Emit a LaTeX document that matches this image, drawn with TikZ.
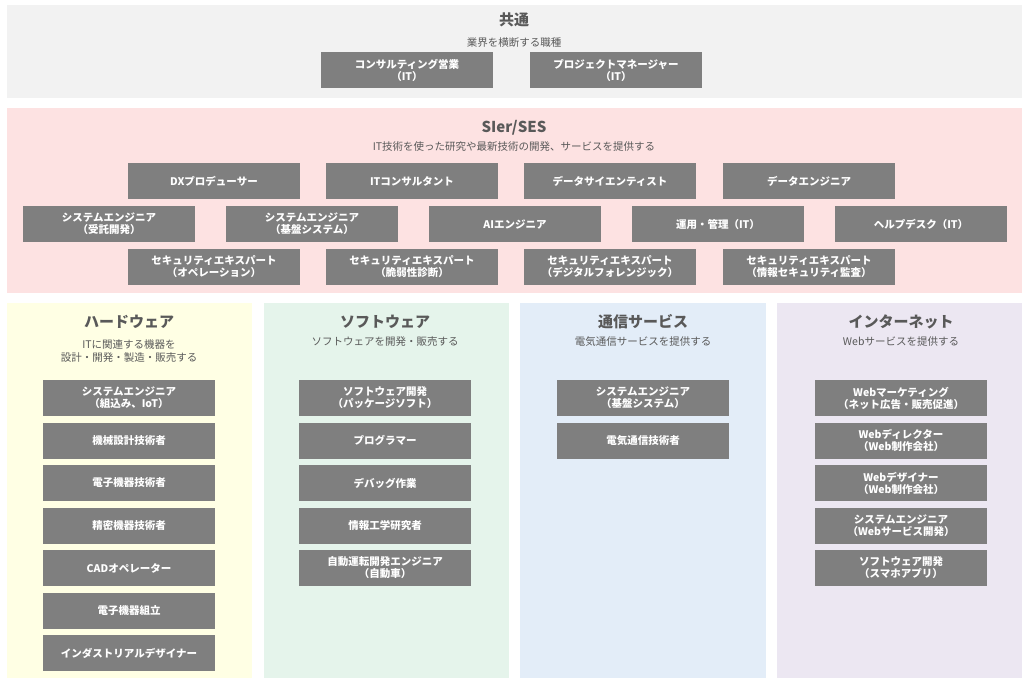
\documentclass[tikz,border=0pt]{standalone}
\usepackage{fontspec}
\setmainfont{Noto Sans CJK JP}
\usetikzlibrary{positioning}
\definecolor{jobgray}{HTML}{7F7F7F}
\definecolor{bandgray}{HTML}{F2F2F2}
\definecolor{bandpink}{HTML}{FDE2E2}
\definecolor{bandyellow}{HTML}{FFFFE4}
\definecolor{bandgreen}{HTML}{E5F4EB}
\definecolor{bandblue}{HTML}{E3EDF8}
\definecolor{bandpurple}{HTML}{ECE7F2}
\definecolor{subtext}{HTML}{595959}
\begin{document}
\begin{tikzpicture}
		[x=1pt,y=-1pt,
		% STYLES
		% job box
		job/.style={rectangle, fill=jobgray, text=white, inner sep=0pt, minimum width=172pt, minimum height=36pt, align=center, font=\fontsize{10.5}{12}\selectfont\bfseries},
		% band title
		bandtitle/.style={font=\fontsize{15}{17}\selectfont\bfseries, text=subtext},
		% band subtitle
		bandsub/.style={font=\fontsize{10.5}{13}\selectfont, text=subtext, align=center}]
		\useasboundingbox (0,0) rectangle (1028,683);

		% Bands
		\fill[bandgray] (7,5) rectangle (1022,98);
		\fill[bandpink] (7,108) rectangle (1022,293);
		\fill[bandyellow] (7,303) rectangle (252,678);
		\fill[bandgreen] (264,303) rectangle (509,678);
		\fill[bandblue] (520,303) rectangle (766,678);
		\fill[bandpurple] (777,303) rectangle (1022,678);

		% Common
		\node [bandtitle] (t-common) at (514,20) {共通};
		\node [bandsub] (s-common) at (514,43) {業界を横断する職種};
		\node [job] (c1) at (407,70) {コンサルティング営業\\（IT）};
		\node [job] (c2) at (616,70) {プロジェクトマネージャー\\（IT）};

		% SIer/SES
		\node [bandtitle] (t-sier) at (514,128) {SIer/SES};
		\node [bandsub] (s-sier) at (514,147) {IT技術を使った研究や最新技術の開発、サービスを提供する};
		\foreach \x/\txt [count=\i] in {214/DXプロデューサー, 412/ITコンサルタント, 610/データサイエンティスト, 809/データエンジニア}
			\node [job] (sa\i) at (\x,181) {\txt};
		\foreach \x/\txt [count=\i] in {109/{システムエンジニア\\（受託開発）}, 312/{システムエンジニア\\（基盤システム）}, 515/AIエンジニア, 718/運用・管理（IT）, 921/ヘルプデスク（IT）}
			\node [job] (sb\i) at (\x,224) {\txt};
		\foreach \x/\txt [count=\i] in {214/{セキュリティエキスパート\\（オペレーション）}, 412/{セキュリティエキスパート\\（脆弱性診断）}, 610/{セキュリティエキスパート\\（デジタルフォレンジック）}, 809/{セキュリティエキスパート\\（情報セキュリティ監査）}}
			\node [job] (sc\i) at (\x,267) {\txt};

		% Hardware
		\node [bandtitle] (t-hw) at (129,322) {ハードウェア};
		\node [bandsub] (s-hw) at (129,351) {ITに関連する機器を\\設計・開発・製造・販売する};
		\foreach \txt [count=\i] in {{システムエンジニア\\（組込み、IoT）}, 機械設計技術者, 電子機器技術者, 精密機器技術者, CADオペレーター, 電子機器組立, インダストリアルデザイナー}
			\node [job] (hw\i) at (129,{398+42.5*(\i-1)}) {\txt};

		% Software
		\node [bandtitle] (t-sw) at (385,322) {ソフトウェア};
		\node [bandsub] (s-sw) at (385,342) {ソフトウェアを開発・販売する};
		\foreach \txt [count=\i] in {{ソフトウェア開発\\（パッケージソフト）}, プログラマー, デバッグ作業, 情報工学研究者, {自動運転開発エンジニア\\（自動車）}}
			\node [job] (sw\i) at (385,{398+42.5*(\i-1)}) {\txt};

		% Telecom
		\node [bandtitle] (t-tc) at (643,322) {通信サービス};
		\node [bandsub] (s-tc) at (643,342) {電気通信サービスを提供する};
		\foreach \txt [count=\i] in {{システムエンジニア\\（基盤システム）}, 電気通信技術者}
			\node [job] (tc\i) at (643,{398+42.5*(\i-1)}) {\txt};

		% Internet
		\node [bandtitle] (t-net) at (901,322) {インターネット};
		\node [bandsub] (s-net) at (901,342) {Webサービスを提供する};
		\foreach \txt [count=\i] in {{Webマーケティング\\（ネット広告・販売促進）}, {Webディレクター\\（Web制作会社）}, {Webデザイナー\\（Web制作会社）}, {システムエンジニア\\（Webサービス開発）}, {ソフトウェア開発\\（スマホアプリ）}}
			\node [job] (net\i) at (901,{398+42.5*(\i-1)}) {\txt};
\end{tikzpicture}
\end{document}
